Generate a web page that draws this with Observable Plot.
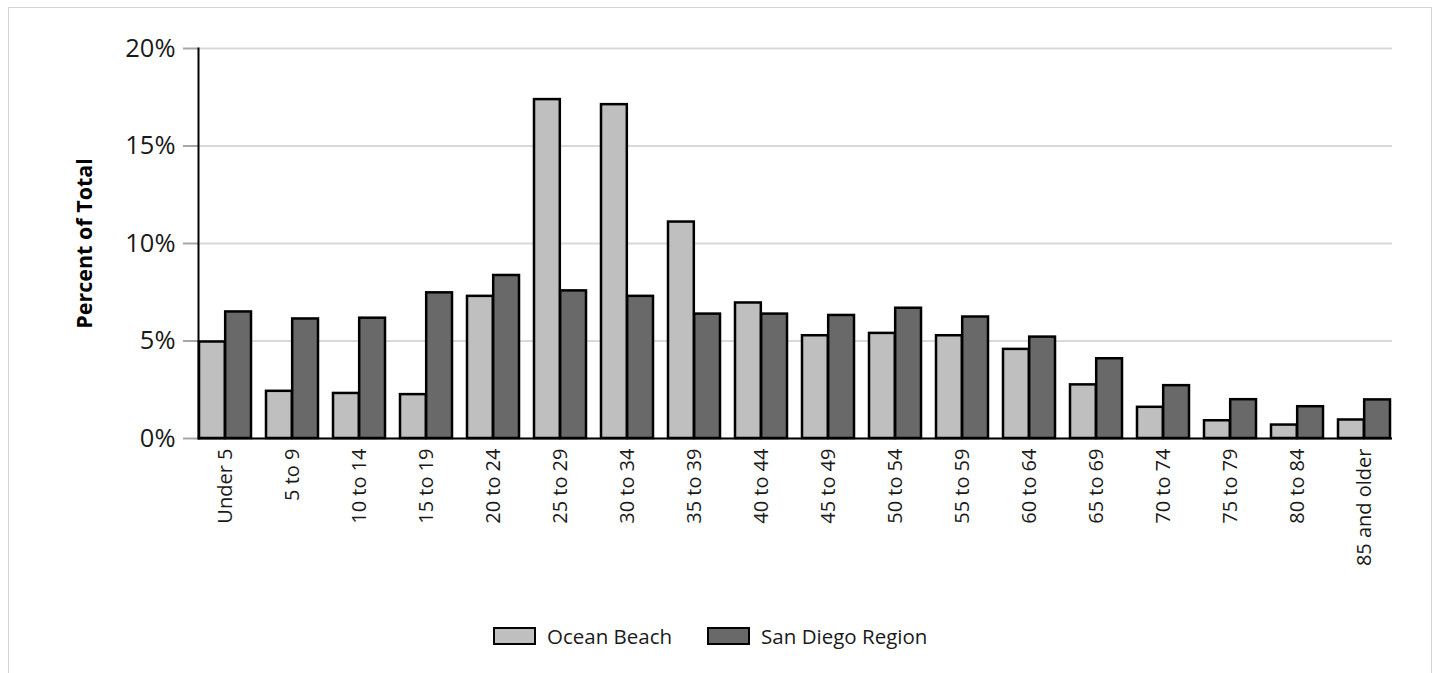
<!DOCTYPE html>
<html>
<head>
<meta charset="utf-8">
<script src="https://cdn.jsdelivr.net/npm/d3@7"></script>
<script src="https://cdn.jsdelivr.net/npm/@observablehq/plot@0.6"></script>
<style>
  html, body { margin: 0; padding: 0; background: #fff; }
  body { width: 1441px; height: 673px; position: relative; overflow: hidden; font-family: "Open Sans", sans-serif; color: #1a1a1a; }
  #border { position: absolute; left: 8px; top: 7px; width: 1424px; height: 720px; border: 1px solid #d4d4d4; box-sizing: border-box; }
  #chart { position: absolute; left: 0; top: 0; }
  #legend { position: absolute; left: 493px; top: 622px; display: flex; align-items: center; font-size: 20.5px; white-space: nowrap; }
  .item { display: flex; align-items: center; margin-right: 35px; }
  .sw { width: 43px; height: 18px; border: 2.5px solid #000; box-sizing: border-box; margin-right: 11px; }
</style>
</head>
<body>
<div id="border"></div>
<div id="chart"></div>
<div id="legend"></div>
<script>
const ages = ["Under 5","5 to 9","10 to 14","15 to 19","20 to 24","25 to 29","30 to 34","35 to 39","40 to 44","45 to 49","50 to 54","55 to 59","60 to 64","65 to 69","70 to 74","75 to 79","80 to 84","85 and older"];
const seriesNames = ["Ocean Beach", "San Diego Region"];
const seriesColors = ["#bfbfbf", "#696969"];
const oceanBeach = [4.95,2.42,2.31,2.25,7.29,17.38,17.12,11.10,6.95,5.27,5.39,5.27,4.57,2.75,1.60,0.91,0.69,0.95];
const sanDiego   = [6.49,6.13,6.17,7.47,8.36,7.57,7.29,6.38,6.38,6.31,6.68,6.23,5.20,4.09,2.71,1.99,1.63,1.98];
const yTicks = [0, 5, 10, 15, 20];

const W = 1441, H = 600, mL = 198, mR = 49, mT = 48, mB = 162;
const padInner = 0.22;
const bw = d3.scaleBand(ages, [mL, W - mR]).paddingInner(padInner).paddingOuter(0).bandwidth();
const half = bw / 2;

const obData = ages.map((a, i) => ({age: a, value: oceanBeach[i]}));
const sdData = ages.map((a, i) => ({age: a, value: sanDiego[i]}));

const plot = Plot.plot({
  width: W, height: H,
  marginLeft: mL, marginRight: mR, marginTop: mT, marginBottom: mB,
  style: {fontFamily: "Open Sans, sans-serif", fontSize: "20px", color: "#1a1a1a", background: "transparent"},
  x: {type: "band", domain: ages, paddingInner: padInner, paddingOuter: 0, label: null},
  y: {domain: [0, 20], label: null},
  marks: [
    Plot.gridY(yTicks, {stroke: "#d9d9d9", strokeWidth: 2, strokeOpacity: 1}),
    Plot.axisY({ticks: yTicks, tickFormat: d => d + "%", tickSize: 15, tickPadding: 8, stroke: "#a6a6a6", strokeWidth: 2, fontSize: 25.5, label: null}),
    Plot.axisX({tickRotate: -90, tickSize: 0, tickPadding: 10, fontSize: 20, label: null}),
    Plot.barY(obData, {x: "age", y: "value", fill: seriesColors[0], stroke: "#000", strokeWidth: 2.5, insetRight: half}),
    Plot.barY(sdData, {x: "age", y: "value", fill: seriesColors[1], stroke: "#000", strokeWidth: 2.5, insetLeft: half}),
    Plot.ruleY([0], {stroke: "#000", strokeWidth: 2}),
    Plot.frame({anchor: "left", stroke: "#000", strokeWidth: 2}),
    Plot.text(["Percent of Total"], {frameAnchor: "left", rotate: -90, dx: -113, textAnchor: "middle", fontSize: 21.5, fontWeight: "bold", fill: "#000"})
  ]
});
document.getElementById("chart").appendChild(plot);

const legend = document.getElementById("legend");
seriesNames.forEach((name, i) => {
  const item = document.createElement("div");
  item.className = "item";
  const sw = document.createElement("div");
  sw.className = "sw";
  sw.style.background = seriesColors[i];
  const label = document.createElement("span");
  label.textContent = name;
  item.appendChild(sw);
  item.appendChild(label);
  legend.appendChild(item);
});
</script>
</body>
</html>
